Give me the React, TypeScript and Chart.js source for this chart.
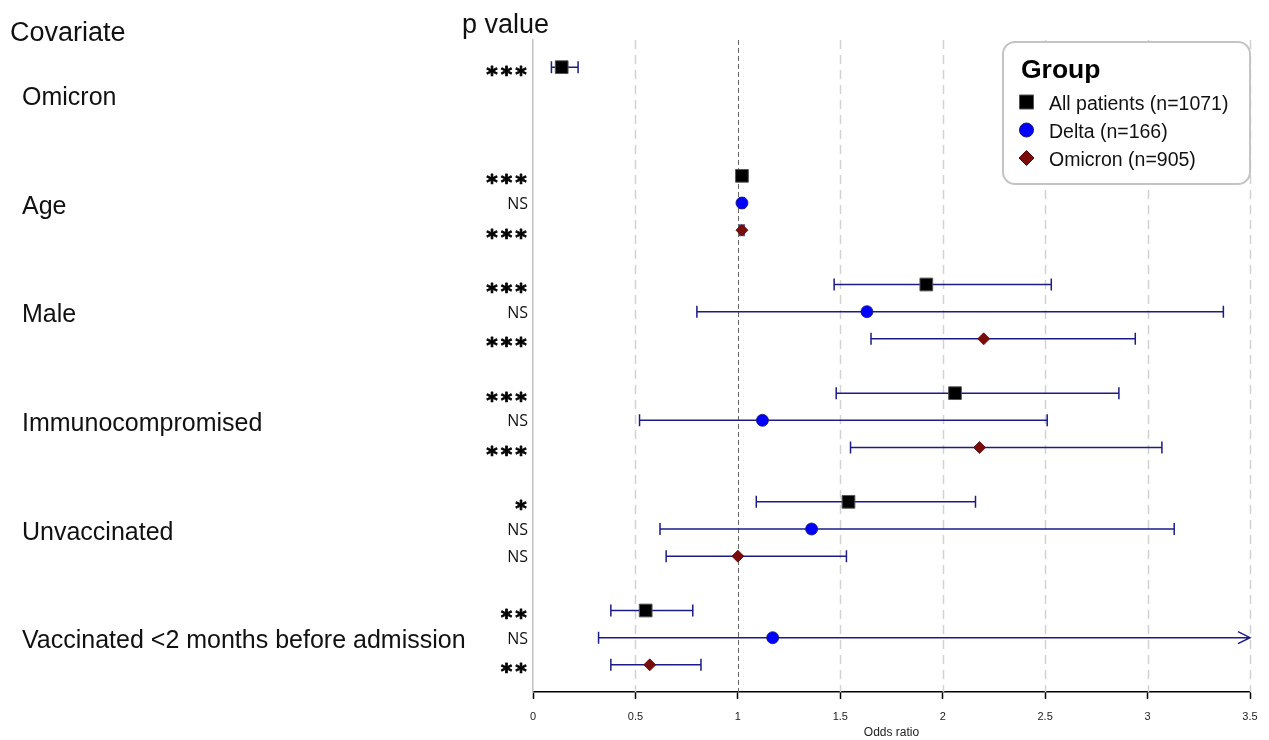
import React, { useEffect, useRef } from "react";
import { Chart, registerables } from "chart.js";

Chart.register(...registerables);

// ---------- data ----------
const covariates = [
  "Omicron",
  "Age",
  "Male",
  "Immunocompromised",
  "Unvaccinated",
  "Vaccinated <2 months before admission",
];
const groupNames = ["All patients (n=1071)", "Delta (n=166)", "Omicron (n=905)"];

const allOR = [0.14, 1.02, 1.92, 2.06, 1.54, 0.55];
const allLo = [0.09, 1.01, 1.47, 1.48, 1.09, 0.38];
const allHi = [0.22, 1.03, 2.53, 2.86, 2.16, 0.78];
const allP = ["***", "***", "***", "***", "*", "**"];

const deltaOR = [null, 1.02, 1.63, 1.12, 1.36, 1.17];
const deltaLo = [null, 1.01, 0.8, 0.52, 0.62, 0.32];
const deltaHi = [null, 1.03, 3.37, 2.51, 3.13, 4.3];
const deltaP = ["", "NS", "NS", "NS", "NS", "NS"];

const omiOR = [null, 1.02, 2.2, 2.18, 1.0, 0.57];
const omiLo = [null, 1.01, 1.65, 1.55, 0.65, 0.38];
const omiHi = [null, 1.03, 2.94, 3.07, 1.53, 0.82];
const omiP = ["", "***", "***", "***", "NS", "**"];

const xMin = 0;
const xMax = 3.5;
const xStep = 0.5;
const refLine = 1;

// ---------- helpers ----------
const SLOTS = 4;
const groups = [
  { or: allOR, lo: allLo, hi: allHi, p: allP },
  { or: deltaOR, lo: deltaLo, hi: deltaHi, p: deltaP },
  { or: omiOR, lo: omiLo, hi: omiHi, p: omiP },
];

const styles = [
  { pointStyle: "rect", radius: 9, bg: "#000000", border: "#555555", bw: 1 },
  { pointStyle: "circle", radius: 6, bg: "#0000ff", border: "#1a1a66", bw: 0.8 },
  { pointStyle: "rectRot", radius: 6, bg: "#7a0c0c", border: "#5a0808", bw: 0.8 },
];

const ERR = "#1c1c86";
const SANS = "'Liberation Sans', Arial, sans-serif";

function buildData(g: number) {
  const G = groups[g];
  const out: any[] = [];
  G.or.forEach((v, i) => {
    if (v == null) return;
    out.push({ x: v, y: i * SLOTS + g, lo: G.lo[i], hi: G.hi[i], p: G.p[i] });
  });
  return out;
}

const forestPlugin = {
  id: "forest",
  beforeDatasetsDraw(chart: any) {
    const { ctx, chartArea, scales } = chart;
    const xs = scales.x;
    ctx.save();
    // dashed vertical grid lines
    for (let v = xMin + xStep; v <= xMax + 1e-9; v += xStep) {
      const px = Math.round(xs.getPixelForValue(v)) + 0.5;
      ctx.beginPath();
      if (Math.abs(v - refLine) < 1e-9) {
        ctx.strokeStyle = "#6a6a6a";
        ctx.lineWidth = 1;
        ctx.setLineDash([5, 3]);
      } else {
        ctx.strokeStyle = "#d2d2d2";
        ctx.lineWidth = 1.5;
        ctx.setLineDash([9, 6]);
      }
      ctx.moveTo(px, chartArea.top);
      ctx.lineTo(px, chartArea.bottom);
      ctx.stroke();
    }
    ctx.setLineDash([]);
    // error bars
    ctx.strokeStyle = ERR;
    ctx.lineWidth = 1.5;
    chart.data.datasets.forEach((ds: any, di: number) => {
      const meta = chart.getDatasetMeta(di);
      meta.data.forEach((el: any, j: number) => {
        const raw = ds.data[j];
        const y = el.y;
        const x1 = xs.getPixelForValue(raw.lo);
        const hiPx = xs.getPixelForValue(raw.hi);
        const clipped = hiPx > chartArea.right;
        const x2 = clipped ? chartArea.right : hiPx;
        ctx.beginPath();
        ctx.moveTo(x1, y);
        ctx.lineTo(x2, y);
        ctx.moveTo(x1, y - 6);
        ctx.lineTo(x1, y + 6);
        if (clipped) {
          ctx.moveTo(x2 - 12, y - 6);
          ctx.lineTo(x2, y);
          ctx.lineTo(x2 - 12, y + 6);
        } else {
          ctx.moveTo(x2, y - 6);
          ctx.lineTo(x2, y + 6);
        }
        ctx.stroke();
      });
    });
    ctx.restore();
  },
  afterDraw(chart: any) {
    const { ctx, scales } = chart;
    const ys = scales.y;
    ctx.save();
    ctx.fillStyle = "#111";
    ctx.textBaseline = "alphabetic";
    // headers
    ctx.font = `27px ${SANS}`;
    ctx.textAlign = "left";
    ctx.fillText("Covariate", 10, 41);
    ctx.fillText("p value", 462, 33);
    // covariate labels
    ctx.font = `25px ${SANS}`;
    covariates.forEach((c, i) => {
      const y = ys.getPixelForValue(i * SLOTS + 1);
      ctx.fillText(c, 22, y + 10.5);
    });
    // p-values
    chart.data.datasets.forEach((ds: any, di: number) => {
      const meta = chart.getDatasetMeta(di);
      meta.data.forEach((el: any, j: number) => {
        const p = ds.data[j].p;
        if (!p) return;
        const y = el.y;
        if (p === "NS") {
          ctx.textAlign = "right";
          ctx.font = `16px 'Open Sans', ${SANS}`;
          ctx.fillStyle = "#111";
          ctx.fillText(p, 528, y + 6);
        } else {
          ctx.textAlign = "center";
          ctx.font = `bold 22px 'DejaVu Sans', sans-serif`;
          ctx.fillStyle = "#000";
          ctx.strokeStyle = "#000";
          ctx.lineWidth = 0.8;
          ctx.lineJoin = "round";
          const n = p.length;
          for (let k = 0; k < n; k++) {
            const cx = 521 - (n - 1 - k) * 14.5;
            ctx.fillText("*", cx, y + 14.5);
            ctx.strokeText("*", cx, y + 14.5);
          }
        }
      });
    });
    // legend
    const lx = 1003, ly = 42, lw = 247, lh = 142, r = 12;
    ctx.beginPath();
    ctx.moveTo(lx + r, ly);
    ctx.arcTo(lx + lw, ly, lx + lw, ly + lh, r);
    ctx.arcTo(lx + lw, ly + lh, lx, ly + lh, r);
    ctx.arcTo(lx, ly + lh, lx, ly, r);
    ctx.arcTo(lx, ly, lx + lw, ly, r);
    ctx.closePath();
    ctx.fillStyle = "#ffffff";
    ctx.fill();
    ctx.strokeStyle = "#c4c4c4";
    ctx.lineWidth = 2;
    ctx.stroke();
    ctx.fillStyle = "#000";
    ctx.textAlign = "left";
    ctx.font = `bold 26.5px ${SANS}`;
    ctx.fillText("Group", 1021, 78);
    ctx.font = `19.5px ${SANS}`;
    const rowY = [102, 130, 158];
    chart.data.datasets.forEach((ds: any, di: number) => {
      const st = styles[di];
      const y = rowY[di];
      ctx.beginPath();
      ctx.fillStyle = st.bg;
      ctx.strokeStyle = st.border;
      ctx.lineWidth = 1;
      if (st.pointStyle === "rect") {
        ctx.rect(1019.5, y - 7, 14, 14);
      } else if (st.pointStyle === "circle") {
        ctx.arc(1026.5, y, 7, 0, Math.PI * 2);
      } else {
        ctx.moveTo(1026.5, y - 7.5);
        ctx.lineTo(1034, y);
        ctx.lineTo(1026.5, y + 7.5);
        ctx.lineTo(1019, y);
        ctx.closePath();
      }
      ctx.fill();
      ctx.stroke();
      ctx.fillStyle = "#111";
      ctx.fillText(ds.label, 1049, y + 7.5);
    });
    ctx.restore();
  },
};

export default function App() {
  const ref = useRef<HTMLCanvasElement | null>(null);
  useEffect(() => {
    if (!ref.current) return;
    const chart = new Chart(ref.current, {
      type: "scatter",
      data: {
        datasets: groups.map((_, g) => ({
          label: groupNames[g],
          data: buildData(g),
          pointStyle: styles[g].pointStyle as any,
          pointRadius: styles[g].radius,
          pointBackgroundColor: styles[g].bg,
          pointBorderColor: styles[g].border,
          pointBorderWidth: styles[g].bw,
          showLine: false,
        })),
      },
      options: {
        animation: false,
        responsive: true,
        maintainAspectRatio: false,
        layout: { padding: { left: 533, right: 19, top: 40, bottom: 0 } },
        plugins: { legend: { display: false }, tooltip: { enabled: false } },
        events: [],
        scales: {
          x: {
            type: "linear",
            min: xMin,
            max: xMax,
            ticks: {
              stepSize: xStep,
              color: "#222",
              font: { size: 11, family: SANS },
              padding: 11,
              maxRotation: 0,
              callback: (v: any) => String(Number(v)),
            },
            grid: {
              display: true,
              drawOnChartArea: false,
              drawTicks: true,
              tickLength: 7,
              tickColor: "#000",
              tickWidth: 1.5,
            },
            border: { display: true, color: "#000", width: 1.5 },
            title: {
              display: true,
              text: "Odds ratio",
              color: "#222",
              font: { size: 12, family: SANS },
              padding: { top: 0, bottom: 0 },
            },
            afterFit: (s: any) => {
              s.height = 48;
            },
          },
          y: {
            type: "linear",
            reverse: true,
            min: -1,
            max: 23,
            ticks: { display: false },
            grid: { display: false },
            border: { display: true, color: "#c2c2c2", width: 1.5 },
            afterFit: (s: any) => {
              s.width = 0;
            },
          },
        },
      },
      plugins: [forestPlugin],
    });
    return () => chart.destroy();
  }, []);
  return (
    <div style={{ position: "fixed", left: 0, top: 0, width: 1269, height: 740, background: "#fff" }}>
      <canvas ref={ref} />
    </div>
  );
}
